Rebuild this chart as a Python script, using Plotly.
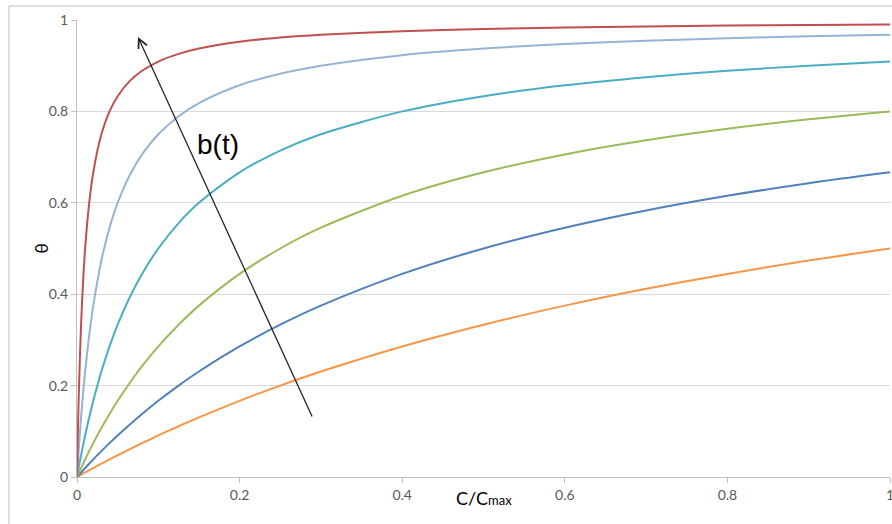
import plotly.graph_objects as go

# C/Cmax sample positions
c_ratio = [0, 0.001, 0.0025, 0.005, 0.0075, 0.01, 0.015, 0.02, 0.03, 0.04, 0.05, 0.065,
           0.08, 0.1, 0.125, 0.15, 0.2, 0.25, 0.3, 0.4, 0.5, 0.6, 0.7, 0.8, 0.9, 1.0]

# theta, lowest to highest
theta_orange = [0, 0.0010, 0.0025, 0.0050, 0.0074, 0.0099, 0.0148, 0.0196, 0.0291, 0.0385,
                0.0476, 0.0610, 0.0741, 0.0909, 0.1111, 0.1304, 0.1667, 0.2, 0.2308, 0.2857,
                0.3333, 0.375, 0.4118, 0.4444, 0.4737, 0.5]
theta_blue = [0, 0.0020, 0.0050, 0.0099, 0.0148, 0.0196, 0.0291, 0.0385, 0.0566, 0.0741,
              0.0909, 0.1150, 0.1379, 0.1667, 0.2, 0.2308, 0.2857, 0.3333, 0.375, 0.4444,
              0.5, 0.5455, 0.5833, 0.6154, 0.6429, 0.6667]
theta_green = [0, 0.0040, 0.0099, 0.0196, 0.0291, 0.0385, 0.0566, 0.0741, 0.1071, 0.1379,
               0.1667, 0.2063, 0.2424, 0.2857, 0.3333, 0.375, 0.4444, 0.5, 0.5455, 0.6154,
               0.6667, 0.7059, 0.7368, 0.7619, 0.7826, 0.8]
theta_teal = [0, 0.0099, 0.0244, 0.0476, 0.0698, 0.0909, 0.1304, 0.1667, 0.2308, 0.2857,
              0.3333, 0.3939, 0.4444, 0.5, 0.5556, 0.6, 0.6667, 0.7143, 0.75, 0.8,
              0.8333, 0.8571, 0.875, 0.8889, 0.9, 0.9091]
theta_lightblue = [0, 0.0291, 0.0698, 0.1304, 0.1837, 0.2308, 0.3103, 0.375, 0.4737, 0.5455,
                   0.6, 0.6610, 0.7059, 0.75, 0.7895, 0.8182, 0.8571, 0.8824, 0.9, 0.9231,
                   0.9375, 0.9474, 0.9545, 0.96, 0.9643, 0.9677]
theta_red = [0, 0.0909, 0.2, 0.3333, 0.4286, 0.5, 0.6, 0.6667, 0.75, 0.8,
             0.8333, 0.8667, 0.8889, 0.9091, 0.9259, 0.9375, 0.9524, 0.9615, 0.9677, 0.9756,
             0.9804, 0.9836, 0.9859, 0.9877, 0.9890, 0.9901]

series = [
    (theta_orange, "#F79646"),
    (theta_blue, "#4F81BD"),
    (theta_green, "#9BBB59"),
    (theta_teal, "#4BACC6"),
    (theta_lightblue, "#95B3D7"),
    (theta_red, "#C0504D"),
]

x_ticks = [0, 0.2, 0.4, 0.6, 0.8, 1]
y_ticks = [0, 0.2, 0.4, 0.6, 0.8, 1]

# arrow: tail and head in data coordinates
arrow_tail = (0.290, 0.129)
arrow_head = (0.075, 0.963)
label_pos = (0.173, 0.727)

TICKFONT = dict(family="Lato, Liberation Sans", size=14, color="#595959")

fig = go.Figure()
for ys, col in series:
    fig.add_trace(go.Scatter(x=c_ratio, y=ys, mode="lines",
                             line=dict(color=col, width=2, shape="spline", smoothing=0.8),
                             showlegend=False, hoverinfo="skip"))

fig.add_annotation(x=arrow_head[0], y=arrow_head[1], ax=arrow_tail[0], ay=arrow_tail[1],
                   xref="x", yref="y", axref="x", ayref="y", showarrow=True,
                   arrowhead=5, arrowsize=1.4, arrowwidth=1.3, arrowcolor="#262626", text="")
fig.add_annotation(x=label_pos[0], y=label_pos[1], xref="x", yref="y", text="b(t)",
                   showarrow=False, font=dict(family="Liberation Sans", size=28, color="#000000"))

fig.add_annotation(x=(28 - 77) / 813, y=(477 - 249) / 457, xref="paper", yref="paper",
                   text="θ", showarrow=False, textangle=-90,
                   font=dict(family="Lato, Liberation Sans", size=17, color="#000000"))
fig.add_annotation(x=(484 - 77) / 813, y=-(511 - 477) / 457, xref="paper", yref="paper",
                   text="C/C<span style='font-size:13px'>max</span>", showarrow=False,
                   font=dict(family="Lato, Liberation Sans", size=18, color="#000000"))

# outer chart border (top and left edges visible)
fig.add_shape(type="line", xref="paper", yref="paper",
              x0=(9 - 77) / 813, x1=1.1, y0=(477 - 6) / 457, y1=(477 - 6) / 457,
              line=dict(color="#BFBFBF", width=1))
fig.add_shape(type="line", xref="paper", yref="paper",
              x0=(9 - 77) / 813, x1=(9 - 77) / 813, y0=(477 - 6) / 457, y1=-0.2,
              line=dict(color="#BFBFBF", width=1))

fig.update_xaxes(range=[0, 1], tickvals=x_ticks, ticktext=[str(v) for v in x_ticks],
                 showgrid=False, zeroline=False, showline=True, linecolor="#BFBFBF",
                 ticks="outside", ticklen=5, tickcolor="#BFBFBF", automargin=False,
                 ticklabeloverflow="allow", tickfont=TICKFONT)
fig.update_yaxes(range=[0, 1], tickvals=y_ticks, ticktext=[str(v) for v in y_ticks],
                 showgrid=True, gridcolor="#D9D9D9", gridwidth=1, zeroline=False,
                 showline=True, linecolor="#BFBFBF", ticks="outside", ticklen=5,
                 tickcolor="#BFBFBF", automargin=False, tickfont=TICKFONT)

fig.update_layout(width=892, height=524, margin=dict(l=77, r=2, t=20, b=47, autoexpand=False),
                  plot_bgcolor="white", paper_bgcolor="white")

fig.write_html("out.html", config={"displayModeBar": False},
               post_script="document.body.style.margin='0';document.body.style.overflow='hidden';")
